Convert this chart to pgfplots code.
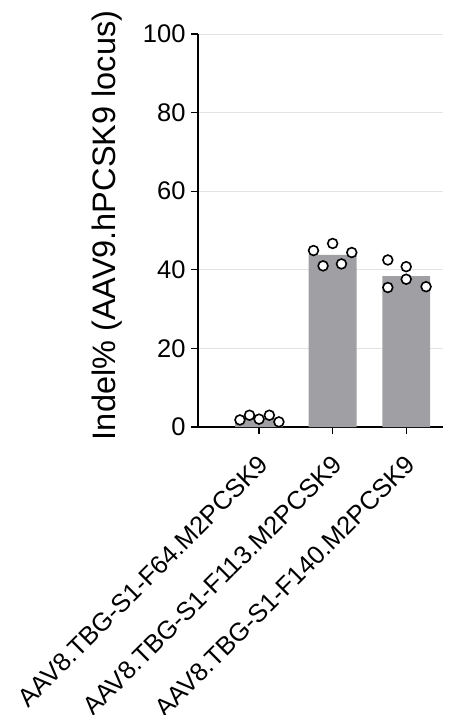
\documentclass[border=0pt]{standalone}
\usepackage{fontspec}
\setmainfont{Liberation Sans}
\usepackage{pgfplots}
\pgfplotsset{compat=1.18}
\definecolor{bargray}{HTML}{A0A0A4}
\definecolor{gridgray}{HTML}{E3E3E3}
\begin{document}
\begin{tikzpicture}
\useasboundingbox (-198pt,-288pt) rectangle (265pt,427pt);
\begin{axis}[
 scale only axis, width=245pt, height=393pt,
 at={(0pt,0pt)}, anchor=south west,
 xmin=-0.83, xmax=2.5, ymin=0, ymax=100,
 axis lines=left, axis line style={line width=1.3pt, -},
 ytick={0,20,...,100}, xtick={0,1,2},
 xticklabels={AAV8.TBG-S1-F64.M2PCSK9,AAV8.TBG-S1-F113.M2PCSK9,AAV8.TBG-S1-F140.M2PCSK9},
 tick align=outside, major tick length=7pt, tick style={line width=1.3pt, black},
 ymajorgrids, grid style={gridgray, line width=0.8pt},
 /pgf/number format/assume math mode=true,
 yticklabel style={font=\fontsize{25.5}{30}\selectfont, xshift=-2pt},
 xticklabel style={font=\fontsize{25.5}{30}\selectfont, xshift=-2pt, yshift=-20pt, rotate=45, anchor=north east, inner sep=0pt},
 ylabel={Indel\% (AAV9.hPCSK9 locus)},
 ylabel style={font=\fontsize{32.5}{38}\selectfont, at={(axis description cs:-0.335,0.513)}, anchor=base},
 clip=false,
]
\addplot[ybar, bar width=0.65, fill=bargray, draw=none] coordinates {(0,2.2) (1,43.8) (2,38.4)};
\addplot[only marks, mark=*, mark size=4.9pt, mark options={fill=white, draw=black, line width=1.6pt}] coordinates {
(-0.26,1.8) (-0.13,3.0) (0,2.0) (0.14,3.0) (0.27,1.3)
(0.74,44.9) (1.0,46.7) (1.26,44.4) (0.87,41.0) (1.12,41.5)
(1.75,42.5) (2.0,40.8) (2.0,37.6) (1.75,35.5) (2.27,35.7)
};
\end{axis}
\end{tikzpicture}
\end{document}
